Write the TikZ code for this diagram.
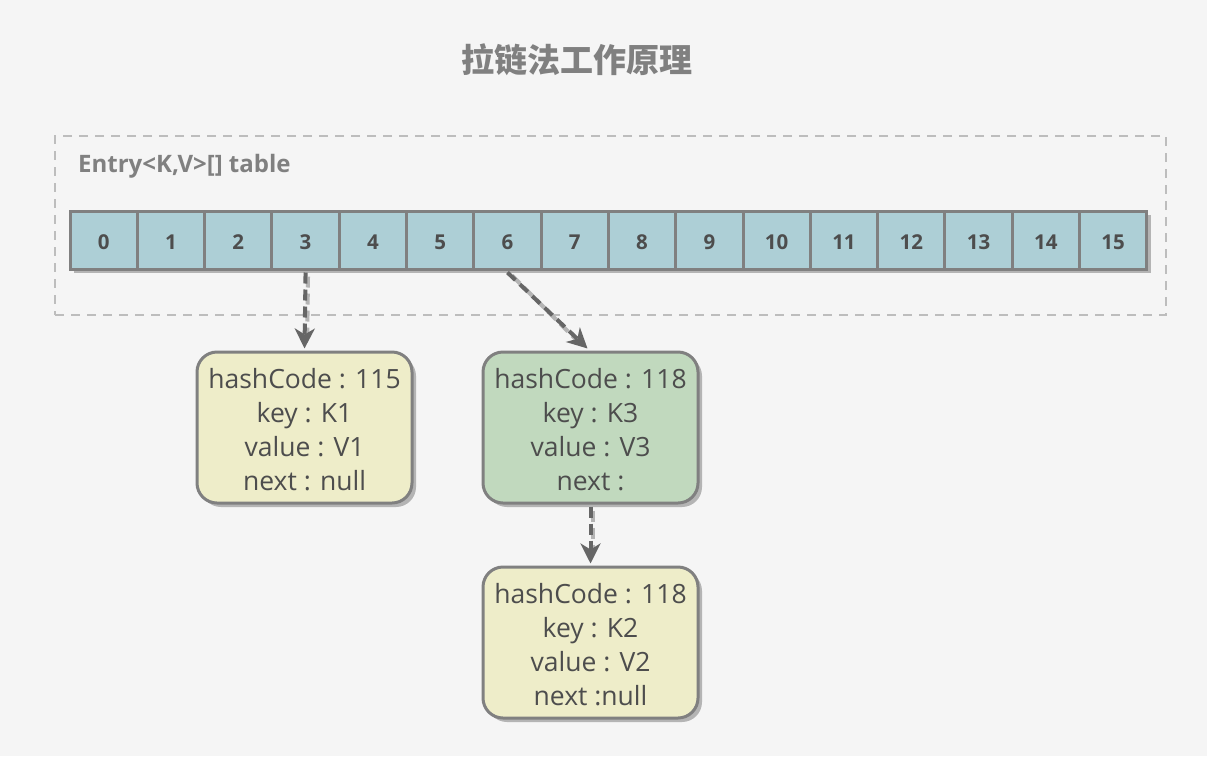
\documentclass[tikz,border=0pt]{standalone}
\usepackage{fontspec}
\setmainfont{Open Sans}
\newfontfamily\cjk{Noto Sans CJK SC}
\usetikzlibrary{arrows.meta,shadows}
\definecolor{bgc}{HTML}{F5F5F5}
\definecolor{dashc}{HTML}{BDBDBD}
\definecolor{cellc}{HTML}{ADCFD6}
\definecolor{bordc}{HTML}{808080}
\definecolor{txtc}{HTML}{4D4D4D}
\definecolor{yelc}{HTML}{EEEDC9}
\definecolor{grnc}{HTML}{C1D9BE}
\definecolor{shc}{HTML}{B4B4B4}
\definecolor{arrc}{HTML}{666666}
\newcommand{\topfix}{\rule{0pt}{24.2pt}}
\tikzset{
  cellbox/.style={draw=bordc, line width=3pt, fill=cellc, minimum width=67.3pt, minimum height=58pt,
    inner sep=0pt, text height=18.6pt, text depth=0pt, font=\fontsize{20.5}{24}\selectfont\bfseries, text=txtc,
    drop shadow={shadow xshift=4pt, shadow yshift=-4pt, fill=shc, opacity=1}},
  entrybox/.style={draw=bordc, line width=3pt, rounded corners=20pt, minimum width=215pt, minimum height=151pt,
    inner sep=0pt, align=center, font=\fontsize{26.5}{34}\selectfont, text=txtc,
    drop shadow={shadow xshift=4pt, shadow yshift=-4pt, fill=shc, opacity=1}},
  link/.style={draw=arrc, line width=4pt, dash pattern=on 11pt off 6pt,
    -{Stealth[length=20pt, width=20pt, inset=6pt]}},
  linkshadow/.style={draw=shc, line width=4pt, dash pattern=on 11pt off 6pt,
    transform canvas={xshift=2.5pt, yshift=-3pt}, shorten >=18pt, shorten <=3pt}
}
\begin{document}
\begin{tikzpicture}[x=1pt,y=-1pt]
\useasboundingbox[fill=bgc] (0,0) rectangle (1207,756);
\node[font=\cjk\fontsize{33}{36}\selectfont\bfseries, text=bordc] (title) at (577,60) {拉链法工作原理};
\node[draw=dashc, line width=2.5pt, dash pattern=on 9pt off 7pt, minimum width=1111pt, minimum height=179pt, inner sep=0pt] (frame) at (610.5,225.5) {};
\node[anchor=west, inner sep=0pt, font=\fontsize{24}{26}\selectfont\bfseries, text=bordc] (lbl) at (78,166) {Entry<K,V>[] table};
\foreach \i in {0,...,15} {
  \node[cellbox] (c\i) at ({70+67.3*\i+33.65},240) {\i};
}
\node[entrybox, fill=yelc] (b1) at (304.5,427.5) {\topfix hashCode : 115\\key : K1\\value : V1\\next : null};
\node[entrybox, fill=grnc] (b2) at (590.5,427.5) {\topfix hashCode : 118\\key : K3\\value : V3\\next :};
\node[entrybox, fill=yelc] (b3) at (590.5,642.5) {\topfix hashCode : 118\\key : K2\\value : V2\\next :null};
\draw[linkshadow] (c3.south) -- (b1.north);
\draw[link] ([yshift=-2pt]c3.south) -- ([yshift=2pt]b1.north);
\draw[linkshadow] (c6.south) -- ([xshift=-3pt]b2.north);
\draw[link] ([yshift=-2pt]c6.south) -- ([xshift=-3pt,yshift=2pt]b2.north);
\draw[linkshadow] (b2.south) -- (b3.north);
\draw[link] ([yshift=-2pt]b2.south) -- ([yshift=2pt]b3.north);
\end{tikzpicture}
\end{document}
